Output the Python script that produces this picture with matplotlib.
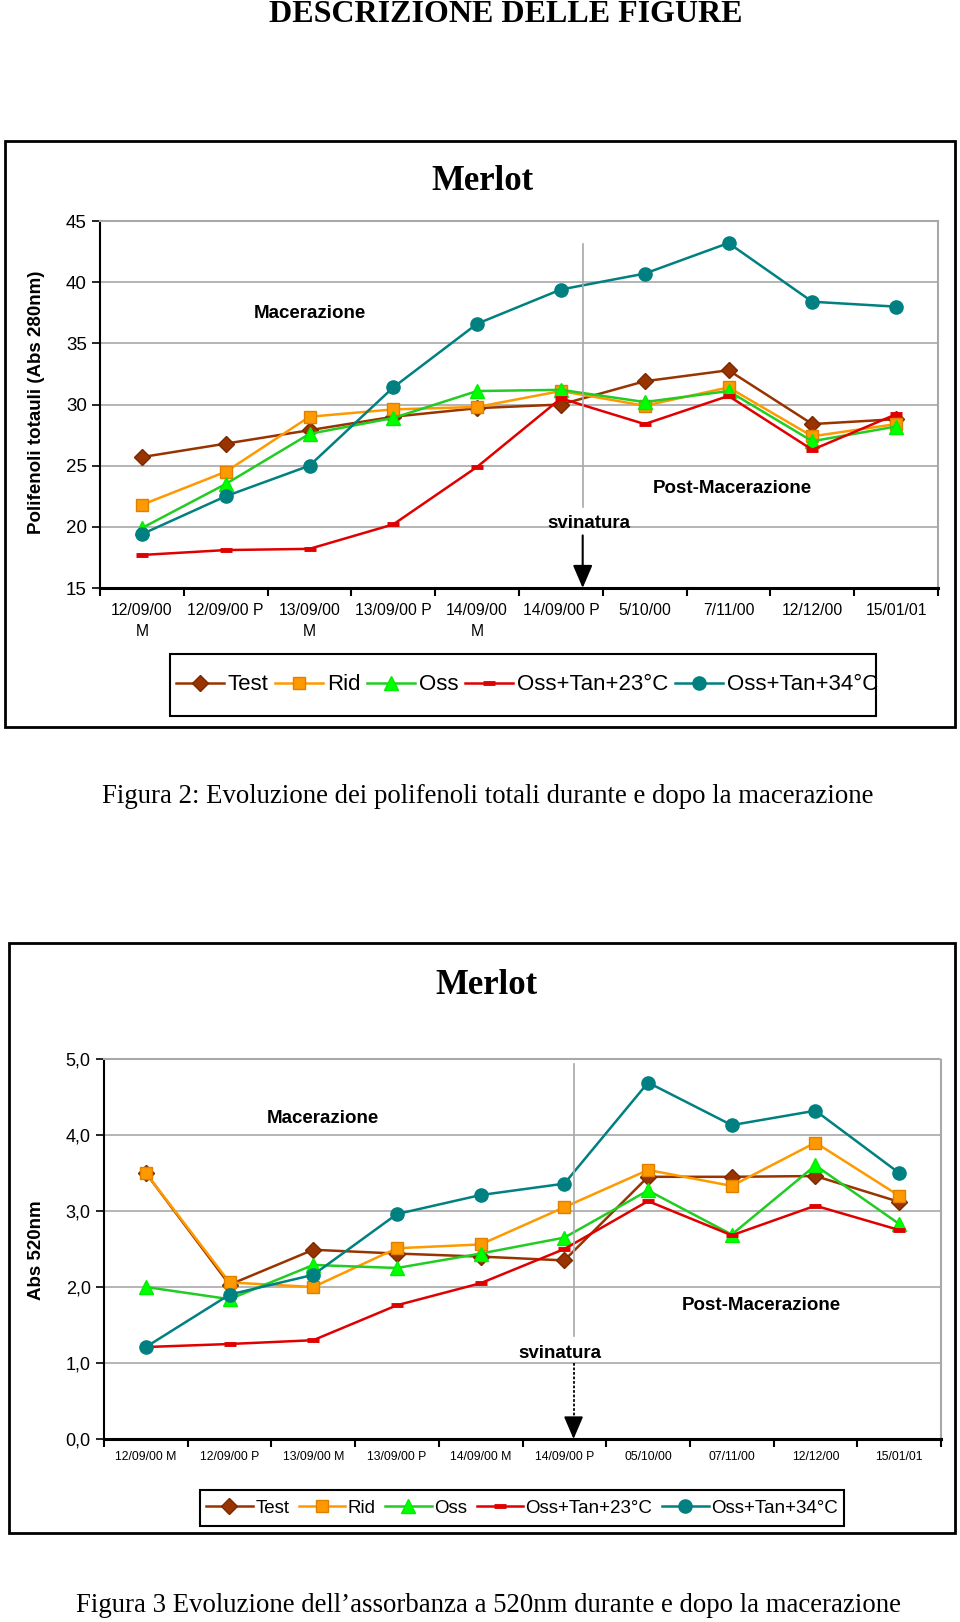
import numpy as np
import matplotlib
matplotlib.use('Agg')
import matplotlib.pyplot as plt
from matplotlib.patches import Rectangle
from matplotlib.ticker import FuncFormatter

W, H = 960, 1622

# categories (dates of the samplings)
dates_fig2 = ['12/09/00\nM', '12/09/00 P', '13/09/00\nM', '13/09/00 P', '14/09/00\nM',
              '14/09/00 P', '5/10/00', '7/11/00', '12/12/00', '15/01/01']
dates_fig3 = ['12/09/00 M', '12/09/00 P', '13/09/00 M', '13/09/00 P', '14/09/00 M',
              '14/09/00 P', '05/10/00', '07/11/00', '12/12/00', '15/01/01']

series_names = ['Test', 'Rid', 'Oss', 'Oss+Tan+23°C', 'Oss+Tan+34°C']

# Figura 2 - polifenoli totali (Abs 280nm)
poli_test = [25.7, 26.8, 27.9, 29.0, 29.7, 30.0, 31.9, 32.8, 28.4, 28.8]
poli_rid = [21.8, 24.5, 29.0, 29.6, 29.8, 31.1, 29.9, 31.4, 27.4, 28.4]
poli_oss = [19.9, 23.5, 27.6, 28.9, 31.1, 31.2, 30.2, 31.1, 27.0, 28.2]
poli_23 = [17.7, 18.1, 18.2, 20.2, 24.9, 30.5, 28.4, 30.7, 26.3, 29.2]
poli_34 = [19.4, 22.5, 25.0, 31.4, 36.6, 39.4, 40.7, 43.2, 38.4, 38.0]

# Figura 3 - assorbanza a 520nm
abs_test = [3.50, 2.03, 2.49, 2.44, 2.40, 2.35, 3.45, 3.45, 3.46, 3.12]
abs_rid = [3.50, 2.06, 2.00, 2.51, 2.56, 3.05, 3.54, 3.33, 3.90, 3.20]
abs_oss = [2.00, 1.84, 2.29, 2.25, 2.44, 2.65, 3.27, 2.69, 3.60, 2.83]
abs_23 = [1.21, 1.25, 1.30, 1.76, 2.05, 2.50, 3.13, 2.68, 3.07, 2.75]
abs_34 = [1.21, 1.90, 2.16, 2.96, 3.21, 3.36, 4.69, 4.13, 4.32, 3.50]

SANS = ['Liberation Sans', 'DejaVu Sans']
SERIF = ['Liberation Serif', 'DejaVu Serif']
GRAY = '#A8A8A8'

styles = [
    dict(color='#993300', marker='D', ms=8, mfc='#993300', mec='#7A2900'),
    dict(color='#FF9900', marker='s', ms=9, mfc='#FF9900', mec='#E08000'),
    dict(color='#22CC22', marker='^', ms=10, mfc='#00FF00', mec='#00EE00'),
    dict(color='#E00000', marker='_', ms=9, mew=3.5, mec='#E00000'),
    dict(color='#008080', marker='o', ms=9.5, mfc='#008080', mec='#008080'),
]

plt.rcParams['font.family'] = SANS


def fig_box(fig, x0, y0, x1, y1, lw=2):
    # box in pixel coords (top-left origin)
    fig.add_artist(Rectangle((x0 / W, 1 - y1 / H), (x1 - x0) / W, (y1 - y0) / H,
                             transform=fig.transFigure, fill=False, ec='black', lw=lw))


def make_axes(fig, x0, y0, x1, y1):
    return fig.add_axes([x0 / W, 1 - y1 / H, (x1 - x0) / W, (y1 - y0) / H])


def draw_series(ax, data):
    x = np.arange(len(data[0]))
    lines = []
    for vals, name, st in zip(data, series_names, styles):
        ln, = ax.plot(x, vals, lw=1.8, label=name, clip_on=False, **st)
        lines.append(ln)
    return lines


def style_axes(ax, labels, ymin, ymax, ystep, xfs, yfs, xpad):
    n = len(labels)
    ax.set_xlim(-0.5, n - 0.5)
    ax.set_ylim(ymin, ymax)
    ax.set_yticks(np.arange(ymin, ymax + ystep / 2, ystep))
    ax.set_xticks(np.arange(n + 1) - 0.5)
    ax.set_xticklabels([])
    ax.set_xticks(np.arange(n), labels, minor=True)
    ax.tick_params(axis='x', which='major', length=6, width=1.5, direction='out')
    ax.tick_params(axis='x', which='minor', length=0, pad=xpad, labelsize=xfs)
    ax.tick_params(axis='y', length=6, width=1.2, direction='out', labelsize=yfs)
    ax.yaxis.grid(True, color=GRAY, lw=1.2)
    ax.set_axisbelow(True)
    ax.spines['left'].set_linewidth(1.5)
    ax.spines['bottom'].set_linewidth(2.2)
    for s in ('top', 'right'):
        ax.spines[s].set_color(GRAY)
        ax.spines[s].set_linewidth(1.5)


def put_legend(ax, handles, x0, yc, fs, hl, htp, cs):
    # frameless legend, the box is drawn separately like in the original
    return ax.legend(handles=handles, loc='center left', ncol=5, frameon=False,
                     bbox_to_anchor=(x0 / W, 1 - yc / H), bbox_transform=ax.figure.transFigure,
                     fontsize=fs, borderpad=0, borderaxespad=0, handlelength=hl,
                     handletextpad=htp, columnspacing=cs)


fig = plt.figure(figsize=(W / 100, H / 100), dpi=100)

# header
fig.text(506 / W, 1 - 22 / H, 'DESCRIZIONE DELLE FIGURE', ha='center', va='baseline',
         family=SERIF, fontweight='bold', fontsize=23)

# ---------------- Figura 2 ----------------
fig_box(fig, 5, 141, 955, 727)
ax1 = make_axes(fig, 100, 221, 938, 588)
lines1 = draw_series(ax1, [poli_test, poli_rid, poli_oss, poli_23, poli_34])
style_axes(ax1, dates_fig2, 15, 45, 5, 11.3, 13.5, 11)
for lbl in ax1.get_xticklabels(minor=True):
    lbl.set_linespacing(1.45)
ax1.set_ylabel('Polifenoli totauli (Abs 280nm)', fontweight='bold', fontsize=13.5)
ax1.yaxis.set_label_coords(-0.066, 0.507)
fig.text(482 / W, 1 - 182 / H, 'Merlot', ha='center', va='center', family=SERIF,
         fontweight='bold', fontsize=25)

ax1.plot([5.26, 5.26], [43.1, 21.6], color=GRAY, lw=1.2)
ax1.text(5.33, 20.3, 'svinatura', ha='center', va='center', fontweight='bold', fontsize=13.5)
ax1.annotate('', xy=(5.26, 15.0), xytext=(5.26, 19.3),
             arrowprops=dict(arrowstyle='-|>,head_width=0.3,head_length=0.7', color='black',
                             lw=1.5, shrinkA=0, shrinkB=0, mutation_scale=20))
ax1.text(2.0, 37.4, 'Macerazione', ha='center', va='center', fontweight='bold', fontsize=13.5)
ax1.text(7.04, 23.1, 'Post-Macerazione', ha='center', va='center', fontweight='bold',
         fontsize=13.5)

fig_box(fig, 170, 654, 876, 716, lw=1.5)
put_legend(ax1, lines1, 176, 685, 16, 2.15, 0.18, 0.3)

fig.text(488 / W, 1 - 797 / H,
         'Figura 2: Evoluzione dei polifenoli totali durante e dopo la macerazione',
         ha='center', va='center', family=SERIF, fontsize=19.3)

# ---------------- Figura 3 ----------------
fig_box(fig, 9, 943, 955, 1533)
ax2 = make_axes(fig, 104, 1059, 941, 1439)
lines2 = draw_series(ax2, [abs_test, abs_rid, abs_oss, abs_23, abs_34])
style_axes(ax2, dates_fig3, 0, 5, 1, 8.8, 13, 9)
ax2.yaxis.set_major_formatter(FuncFormatter(lambda v, p: f'{v:.1f}'.replace('.', ',')))
for s in ('top', 'right'):
    ax2.spines[s].set_linestyle((0, (2, 1)))
ax2.set_ylabel('Abs 520nm', fontweight='bold', fontsize=13.5)
ax2.yaxis.set_label_coords(-0.071, 0.497)
fig.text(486 / W, 1 - 985 / H, 'Merlot', ha='center', va='center', family=SERIF,
         fontweight='bold', fontsize=25)

ax2.plot([5.11, 5.11], [4.93, 1.35], color=GRAY, lw=1.2)
ax2.text(4.95, 1.13, 'svinatura', ha='center', va='center', fontweight='bold', fontsize=13.5)
ax2.plot([5.11, 5.11], [1.0, 0.2], color='black', lw=1.3, ls=(0, (1.5, 1)))
ax2.annotate('', xy=(5.11, 0.0), xytext=(5.11, 0.25),
             arrowprops=dict(arrowstyle='-|>,head_width=0.3,head_length=0.7', color='black',
                             lw=1.3, shrinkA=0, shrinkB=0, mutation_scale=20))
ax2.text(2.11, 4.22, 'Macerazione', ha='center', va='center', fontweight='bold', fontsize=13.5)
ax2.text(7.35, 1.75, 'Post-Macerazione', ha='center', va='center', fontweight='bold',
         fontsize=13.5)

fig_box(fig, 200, 1490, 844, 1526, lw=1.5)
put_legend(ax2, lines2, 206, 1508, 13.5, 2.5, 0.12, 0.5)

fig.text(488 / W, 1 - 1605 / H,
         'Figura 3 Evoluzione dell\u2019assorbanza a 520nm durante e dopo la macerazione',
         ha='center', va='center', family=SERIF, fontsize=19.3)

fig.savefig('out.png', dpi=100)
